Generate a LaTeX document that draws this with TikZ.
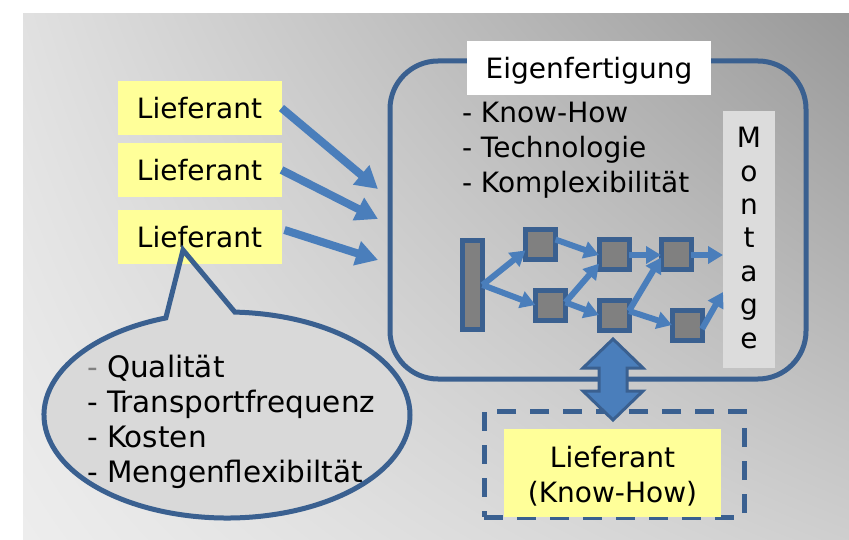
\documentclass[tikz,border=0pt]{standalone}
\usepackage{fontspec}
\setmainfont{DejaVu Sans}
\usetikzlibrary{arrows.meta,shapes.callouts,shapes.geometric}
\definecolor{bd}{HTML}{3A6090}
\definecolor{fl}{HTML}{4A7EBB}
\definecolor{yel}{HTML}{FFFF99}
\definecolor{mont}{HTML}{DCDCDC}
\definecolor{bub}{HTML}{D9D9D9}
\pgfdeclarefunctionalshading{bgshade}{\pgfpointorigin}{\pgfpoint{100bp}{100bp}}{}{25 sub 50 div exch 25 sub 50 div exch 2 copy mul -0.16 mul 3 1 roll -0.05 mul exch -0.12 mul add add 0.93 add dup 1 gt {pop 1} if dup 0 lt {pop 0} if dup dup}
\begin{document}
\begin{tikzpicture}[x=1pt,y=-1pt,
  every node/.style={font=\fontsize{28}{35}\selectfont, inner sep=0pt, outer sep=0pt},
  lief/.style={fill=yel, minimum width=164pt, minimum height=54pt},
  sq/.style={draw=bd, fill=gray, line width=5pt, minimum size=30pt},
  bigarrow/.style={draw=fl, line width=8pt, -{Triangle[length=22pt,width=24pt]}},
  flowarrow/.style={draw=fl, line width=6pt, -{Triangle[length=15pt,width=17pt]}},
  item/.style={anchor=base west},
  bubtext/.style={anchor=base west, font=\fontsize{29.5}{35}\selectfont},
  bubbleshape/.style={ellipse callout, minimum width=366pt, minimum height=206pt,
    callout absolute pointer={(183,250)}, callout pointer arc=22},
]
\useasboundingbox (0,0) rectangle (849,540);
\shade[shading=bgshade] (23,14) rectangle (849,540);

% speech bubble fill
\node (bubblefill) [bubbleshape, fill=bub] at (227,415) {};

% main box
\node (eigen) [draw=bd, line width=5pt, rounded corners=48pt, minimum width=416pt, minimum height=318pt] at (598,220) {};
\node (eigtitle) [fill=white, minimum width=244pt, minimum height=54pt] at (589,68) {};
\node (eigtxt) [anchor=base] at (589,79) {Eigenfertigung};
\node (k1) [item] at (462,123) {- Know-How};
\node (k2) [item] at (462,158) {- Technologie};
\node (k3) [item] at (462,193) {- Komplexibilität};

% Montage
\node (montage) [fill=mont, minimum width=52pt, minimum height=257pt] at (749,239.5) {};
\foreach \l/\yy [count=\i] in {M/148,o/181.3,n/214.7,t/248,a/281.3,g/314.7,e/348}
  \node (m\i) [anchor=base] at (749,\yy) {\l};

% flow
\node (bar) [draw=bd, fill=gray, line width=5pt, minimum width=20pt, minimum height=89pt] at (472.5,285) {};
\node (s1) [sq] at (540.5,245) {};
\node (s2) [sq] at (550.5,305) {};
\node (s3) [sq] at (614,255) {};
\node (s4) [sq] at (614,315) {};
\node (s5) [sq] at (676,255) {};
\node (s6) [sq] at (687,325) {};
\draw[flowarrow] (bar.east) -- (s1.200);
\draw[flowarrow] (bar.east) -- (s2.west);
\draw[flowarrow] (s1.20) -- (s3.west);
\draw[flowarrow] (s2.10) -- (s3.210);
\draw[flowarrow] (s2.10) -- (s4.west);
\draw[flowarrow] (s3.east) -- (s5.west);
\draw[flowarrow] (s4.15) -- (s5.190);
\draw[flowarrow] (s4.15) -- (s6.west);
\draw[flowarrow] (s5.east) -- (montage.west |- s5.east);
\draw[flowarrow] (s6.-15) -- ([yshift=-52.5pt]montage.west);

% external supplier with know-how
\node (khbox) [draw=bd, line width=5pt, dash pattern=on 19pt off 14pt, minimum width=260pt, minimum height=106pt] at (614,464) {};
\node (kh) [lief, minimum width=217pt, minimum height=88pt] at (612.5,473) {};
\node (khtxt) [align=center] at (612.5,476) {Lieferant\\(Know-How)};
\draw[draw=bd, fill=fl, line width=3pt, line join=miter]
  (613,339) -- (643,368) -- (627,368) -- (627,391) -- (643,391) -- (613,420)
  -- (583,391) -- (599,391) -- (599,368) -- (583,368) -- cycle;

% suppliers
\node (l1) [lief] at (199.5,108) {Lieferant};
\node (l2) [lief] at (199.5,170) {Lieferant};
\node (l3) [lief] at (199.5,237) {Lieferant};
\coordinate (t1) at (378,189);
\coordinate (t2) at (378,219);
\coordinate (t3) at (378,260);
\draw[bigarrow] (l1.east) -- (t1);
\draw[bigarrow] (l2.east) -- (t2);
\draw[bigarrow] ([xshift=3pt,yshift=7pt]l3.east) -- (t3);

% speech bubble outline and text
\node (bubble) [bubbleshape, draw=bd, line width=5pt] at (227,415) {};
\node (q1) [bubtext] at (87,377) {\textcolor{gray}{-} Qualität};
\node (q2) [bubtext] at (87,412) {- Transportfrequenz};
\node (q3) [bubtext] at (87,447) {- Kosten};
\node (q4) [bubtext] at (87,482) {- Mengenflexibiltät};
\end{tikzpicture}
\end{document}
